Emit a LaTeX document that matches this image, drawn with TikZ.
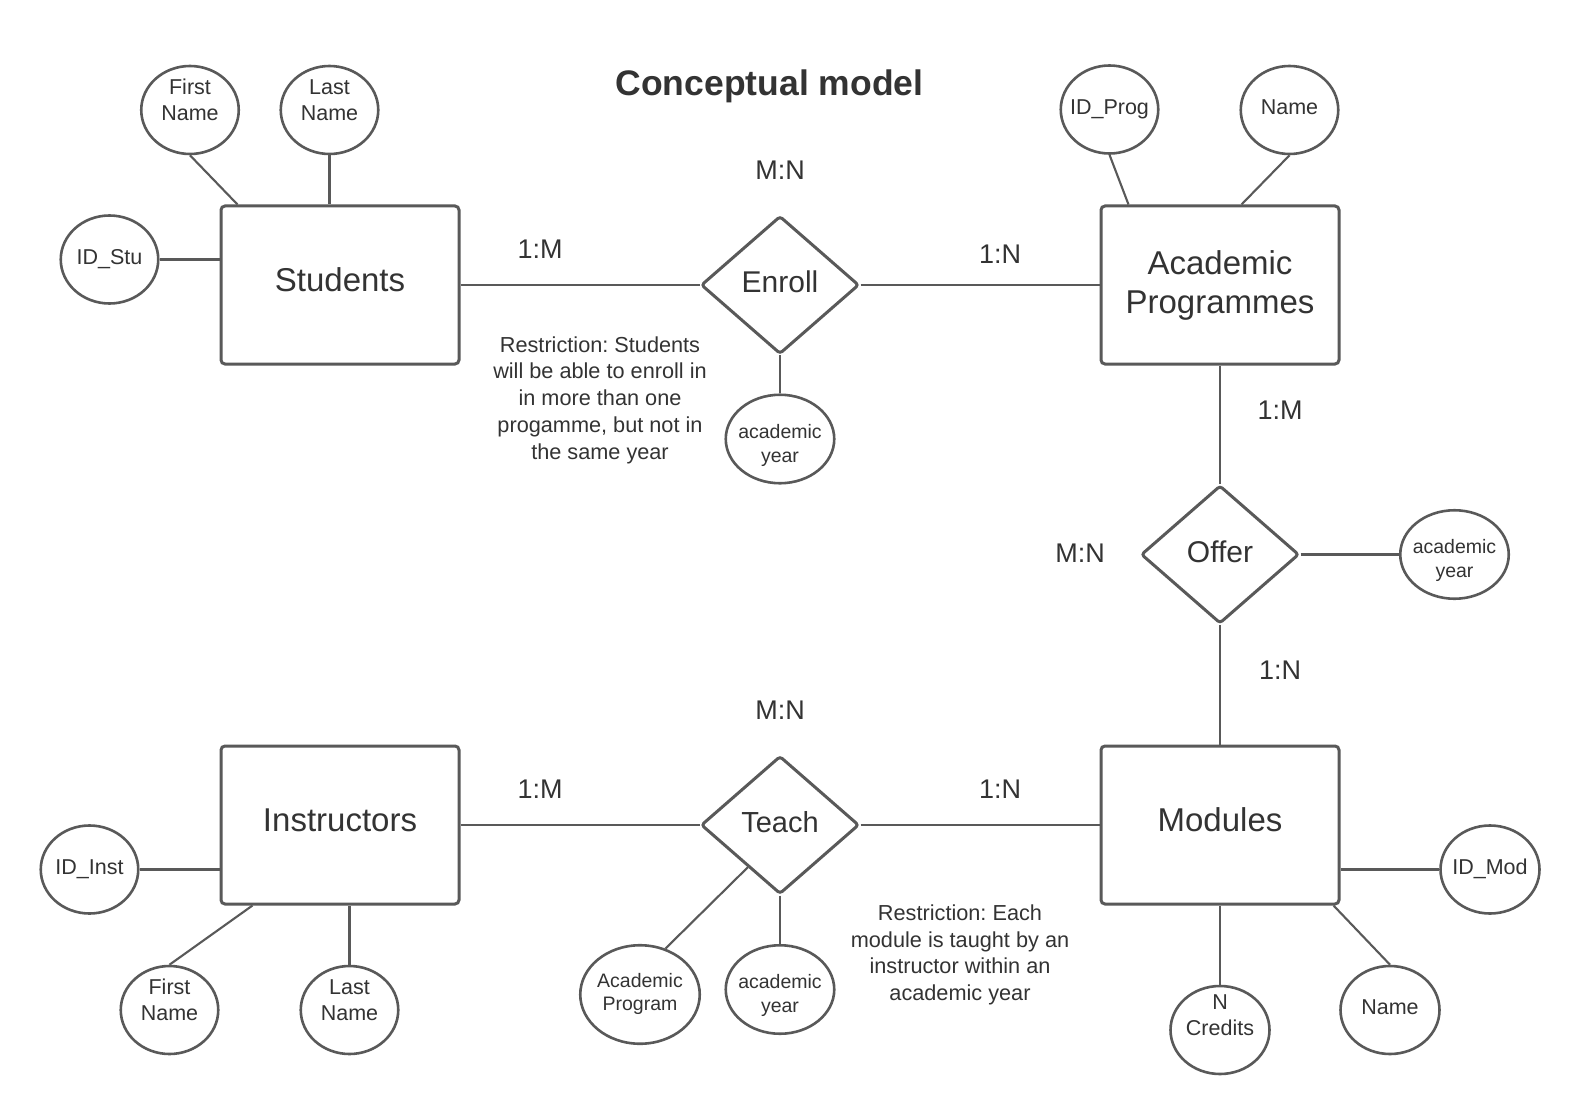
\documentclass[tikz,border=0pt]{standalone}
\usepackage{fontspec}
\setmainfont{Liberation Sans}
\usetikzlibrary{shapes.geometric,calc}
\definecolor{strk}{HTML}{595959}
\definecolor{txt}{HTML}{333333}
\newcommand\attrtxt[2][0pt]{\makebox[0pt]{\raisebox{#1}[\height][\depth]{\begin{tabular}{@{}c@{}}#2\end{tabular}}}}
\frenchspacing
\begin{document}
\begin{tikzpicture}[x=1pt,y=-1pt,
  entity/.style={draw=strk, line width=3pt, rounded corners=4pt, minimum width=238pt, minimum height=158pt, text=txt, font=\fontsize{33}{39}\selectfont, align=center, fill=white},
  entityone/.style={entity, text depth=10pt},
  rel/.style={draw=strk, line width=3pt, shape=diamond, rounded corners=3pt, minimum width=158pt, minimum height=138pt, inner sep=0pt, aspect=1.15, text=txt, text depth=6pt, font=\fontsize{30}{36}\selectfont, fill=white},
  attr/.style={draw=strk, line width=2.6pt, shape=ellipse, minimum width=97.5pt, minimum height=88pt, inner sep=0pt, text=txt, font=\fontsize{21.5}{26}\selectfont, fill=white},
  attrs/.style={attr, font=\fontsize{19.5}{23.5}\selectfont, minimum width=108.5pt, minimum height=88.5pt},
  conn/.style={draw=strk, line width=2.1pt},
  card/.style={text=txt, font=\fontsize{27}{32}\selectfont, inner sep=0pt},
  note/.style={text=txt, font=\fontsize{21.7}{26.7}\selectfont\frenchspacing, align=center, inner sep=0pt},
]
\fill[white] (0,0) rectangle (1580,1115);
\useasboundingbox (0,0) rectangle (1580,1115);

% title
\node[text=txt, font=\bfseries\fontsize{35.5}{42}\selectfont, inner sep=0pt] (title) at (769.5,86) {Conceptual model};

% entities
\node[entityone] (stu) at (340,285) {Students};
\node[entity] (ap) at (1220,285) {Academic\\Programmes};
\node[entityone] (ins) at (340,825) {Instructors};
\node[entityone] (mod) at (1220,825) {Modules};

% relationships
\node[rel] (enr) at (780,285) {Enroll};
\node[rel, font=\fontsize{29}{35}\selectfont] (tch) at (780,825) {Teach};
\node[rel] (off) at (1220,554.5) {Offer};

% attributes
\node[attr] (fnS) at (190,110) {\attrtxt[8pt]{First\\Name}};
\node[attr] (lnS) at (329.5,110) {\attrtxt[8pt]{Last\\Name}};
\node[attr] (idS) at (109.5,259.5) {\attrtxt{ID\_Stu}};
\node[attrs] (ay1) at (780,439) {\attrtxt[-7pt]{academic\\year}};
\node[attr] (idP) at (1109.5,109.5) {\attrtxt{ID\_Prog}};
\node[attr] (nmP) at (1289.5,110) {\attrtxt[1pt]{Name}};
\node[attrs] (ay2) at (1454.5,554.5) {\attrtxt[-6.5pt]{academic\\year}};
\node[attr] (idI) at (89.5,869.5) {\attrtxt{ID\_Inst}};
\node[attr] (fnI) at (169.5,1010) {\attrtxt[8pt]{First\\Name}};
\node[attr] (lnI) at (349.5,1010) {\attrtxt[8pt]{Last\\Name}};
\node[attrs, minimum width=119.5pt, minimum height=98.5pt] (apg) at (640,994.5) {\attrtxt{Academic\\Program}};
\node[attrs] (ay3) at (780,989.5) {\attrtxt[-6.5pt]{academic\\year}};
\node[attr, minimum width=99pt] (idM) at (1490,869.5) {\attrtxt{ID\_Mod}};
\node[attr, minimum width=99pt] (ncr) at (1220,1030) {\attrtxt[12.5pt]{N\\Credits}};
\node[attr, minimum width=99pt] (nmM) at (1390,1010) {\attrtxt[1pt]{Name}};

% connectors
\draw[conn] (fnS.south) -- ([xshift=18pt]stu.north west);
\draw[conn] (lnS.south) -- (lnS.south |- stu.north);
\draw[conn] (idS.east) -- (idS.east -| stu.west);
\draw[conn] (stu.east) -- (enr.west);
\draw[conn] (enr.east) -- (ap.west);
\draw[conn] (enr.south) -- (ay1.north);
\draw[conn] (idP.south) -- ([xshift=29pt]ap.north west);
\draw[conn] (nmP.south) -- ([xshift=142pt]ap.north west);
\draw[conn] (ap.south) -- (off.north);
\draw[conn] (off.east) -- (ay2.west);
\draw[conn] (off.south) -- (mod.north);
\draw[conn] (ins.east) -- (tch.west);
\draw[conn] (tch.east) -- (mod.west);
\draw[conn] (idI.east) -- (idI.east -| ins.west);
\draw[conn] (fnI.north) -- ([xshift=33pt]ins.south west);
\draw[conn] (lnI.north) -- (lnI.north |- ins.south);
\draw[conn] ($(tch.west)!0.6!(tch.south)$) -- (apg.61);
\draw[conn] (tch.south) -- (ay3.north);
\draw[conn] (mod.east |- idM.west) -- (idM.west);
\draw[conn] (mod.south) -- (ncr.north);
\draw[conn] ([xshift=-7pt]mod.south east) -- (nmM.north);

% cardinalities
\node[card] (c1) at (540,249) {1:M};
\node[card] (c2) at (780,170) {M:N};
\node[card] (c3) at (1000,254) {1:N};
\node[card] (c4) at (1280,410) {1:M};
\node[card] (c5) at (1080,553) {M:N};
\node[card] (c6) at (1280,670) {1:N};
\node[card] (c7) at (780,710) {M:N};
\node[card] (c8) at (540,789) {1:M};
\node[card] (c9) at (1000,789) {1:N};

% notes
\node[note] (n1) at (600,400) {Restriction: Students\\will be able to enroll in\\in more than one\\progamme, but not in\\the same year};
\node[note] (n2) at (960,955) {Restriction: Each\\module is taught by an\\instructor within an\\academic year};
\end{tikzpicture}
\end{document}
